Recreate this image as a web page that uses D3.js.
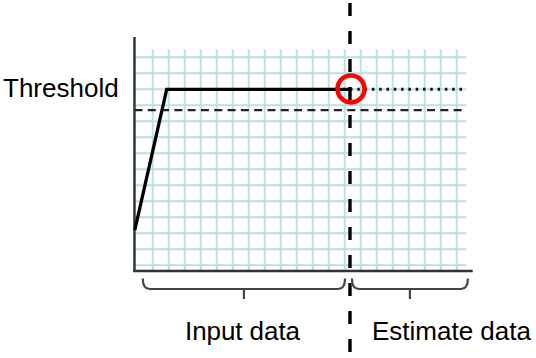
<!DOCTYPE html>
<html><head><meta charset="utf-8">
<script src="https://cdn.jsdelivr.net/npm/d3@7"></script>
<style>html,body{margin:0;padding:0;background:#fff;}svg{display:block;}</style>
</head><body>
<svg id="c" width="536" height="358"></svg>
<script>
// ---- data (in grid units) ----
const inputX = [-0.12, 1.875, 13.33];
const inputY = [2.2, 11, 11];
const estimateX = [13.33, 20.6];
const estimateY = [11, 11];
const thresholdValue = 11;
const lowerLineValue = 9.7;
const splitX = 13.33;
const gridXTicks = d3.range(1, 21);
const gridYTicks = d3.range(0, 14);
const labels = ["Threshold", "Input data", "Estimate data"];
const braceRanges = [[0.38, 13.02], [13.45, 20.7]];

const svg = d3.select("#c");
const x = d3.scaleLinear().domain([0, 20]).range([136.7, 456.7]);
const y = d3.scaleLinear().domain([0, 13]).range([265.3, 57.3]);
const xMin = -0.14, xMax = 20.6, xAxisEnd = 21.0;
const yMin = -0.36, yTop = 14.27, gridTop = 13.5;

// grid
const grid = svg.append("g").attr("stroke", "#b8e1e4").attr("stroke-width", 2);
grid.selectAll("line.v").data(gridXTicks).join("line")
  .attr("x1", d => x(d)).attr("x2", d => x(d))
  .attr("y1", y(gridTop)).attr("y2", y(yMin));
grid.selectAll("line.h").data(gridYTicks).join("line")
  .attr("x1", x(xMin)).attr("x2", x(xMax))
  .attr("y1", d => y(d)).attr("y2", d => y(d));

// axes
svg.append("line").attr("x1", x(xMin)).attr("x2", x(xMin))
  .attr("y1", y(yTop)).attr("y2", y(yMin) + 1)
  .attr("stroke", "#333").attr("stroke-width", 2.5);
svg.append("line").attr("x1", x(xMin) - 1).attr("x2", x(xAxisEnd))
  .attr("y1", y(yMin)).attr("y2", y(yMin))
  .attr("stroke", "#333").attr("stroke-width", 2.5);

// lower dashed line
svg.append("line").attr("x1", x(xMin)).attr("x2", x(xMax))
  .attr("y1", y(lowerLineValue)).attr("y2", y(lowerLineValue))
  .attr("stroke", "#222").attr("stroke-width", 2.2).attr("stroke-dasharray", "8,5.3");

// estimate dotted line
const line = d3.line().x(d => x(d[0])).y(d => y(d[1]));
svg.append("path").attr("d", line(d3.zip(estimateX, estimateY)))
  .attr("fill", "none").attr("stroke", "#111").attr("stroke-width", 3)
  .attr("stroke-dasharray", "2.5,4.8");

// input solid line
svg.append("path").attr("d", line(d3.zip(inputX, inputY)))
  .attr("fill", "none").attr("stroke", "#000").attr("stroke-width", 3.3)
  .attr("stroke-linejoin", "miter");

// vertical split dashed line
svg.append("line").attr("x1", x(splitX)).attr("x2", x(splitX))
  .attr("y1", 3).attr("y2", 358)
  .attr("stroke", "#000").attr("stroke-width", 3.4).attr("stroke-dasharray", "13,15");

// red circle
svg.append("circle").attr("cx", x(splitX) + 1).attr("cy", y(thresholdValue) - 0.4)
  .attr("r", 13.5).attr("fill", "none").attr("stroke", "#ff0000").attr("stroke-width", 4.5);

// braces
const by0 = 278.5, by1 = 289, by2 = 299;
braceRanges.forEach(([a, b]) => {
  const x0 = x(a), x1 = x(b), m = (x0 + x1) / 2;
  svg.append("path")
    .attr("d", `M${x0},${by0} Q${x0},${by1} ${x0 + 7},${by1} L${x1 - 7},${by1} Q${x1},${by1} ${x1},${by0} M${m},${by1} L${m},${by2}`)
    .attr("fill", "none").attr("stroke", "#444").attr("stroke-width", 2.2);
});

// labels
const font = "'Liberation Sans', Arial, sans-serif";
svg.append("text").attr("x", 3).attr("y", 97).text(labels[0])
  .attr("font-family", font).attr("font-size", 26).attr("fill", "#000");
svg.append("text").attr("x", 185).attr("y", 340).text(labels[1])
  .attr("font-family", font).attr("font-size", 26).attr("fill", "#000")
  .attr("textLength", 115).attr("lengthAdjust", "spacing");
svg.append("text").attr("x", 372).attr("y", 340).text(labels[2])
  .attr("font-family", font).attr("font-size", 26).attr("fill", "#000");
</script>
</body></html>
